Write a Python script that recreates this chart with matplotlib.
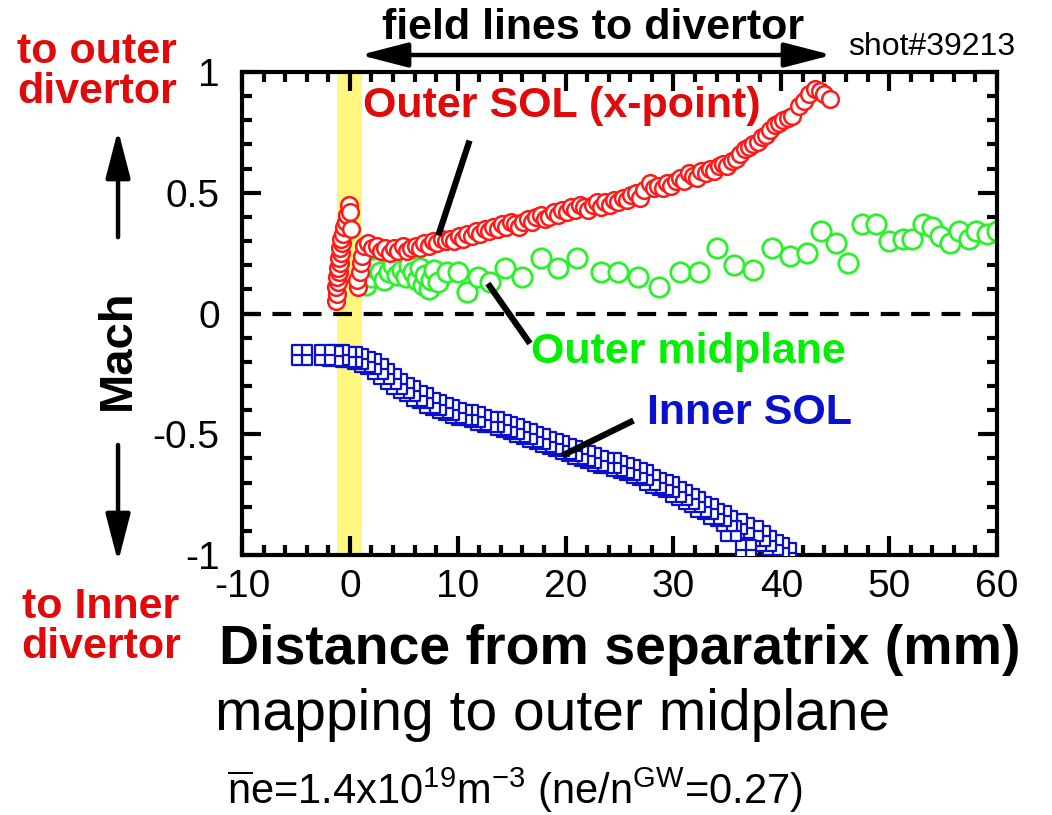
import matplotlib

matplotlib.use("Agg")
import matplotlib.pyplot as plt
from matplotlib.patches import FancyArrowPatch
from matplotlib.path import Path

plt.rcParams["font.family"] = ["Liberation Sans", "DejaVu Sans"]
plt.rcParams["axes.unicode_minus"] = False
plt.rcParams["mathtext.fontset"] = "custom"
plt.rcParams["mathtext.rm"] = "Liberation Sans"
plt.rcParams["mathtext.it"] = "Liberation Sans"
plt.rcParams["mathtext.bf"] = "Liberation Sans:bold"

# Mach number vs distance from separatrix (mm, mapped to outer midplane)
outer_sol_x = [
    -1.3, -1.2, -1.3, -1.1, -1.2, -1.0, -1.1, -0.9, -1.0, -0.8, -0.9, -0.7,
    -0.8, -0.6, -0.5, -0.4, -0.3, -0.1, 0.0, 0.1, 0.8, 0.7, 0.9, 1.0, 1.1,
    1.3, 1.7, 2.1, 2.5, 2.9, 3.3, 3.7, 4.1, 4.5, 4.9, 5.3, 5.7, 6.1, 6.5,
    6.9, 7.3, 7.7, 8.1, 8.5, 8.9, 9.3, 9.7, 10.1, 10.5, 10.9, 11.3, 11.7,
    12.1, 12.5, 12.9, 13.3, 13.7, 14.1, 14.5, 14.9, 15.3, 15.7, 16.1, 16.5,
    16.9, 17.3, 17.7, 18.1, 18.5, 18.9, 19.3, 19.7, 20.1, 20.5, 20.9, 21.3,
    21.7, 22.1, 22.5, 22.9, 23.3, 23.7, 24.1, 24.5, 24.9, 25.3, 25.7, 26.1,
    26.5, 26.9, 27.3, 27.8, 28.2, 28.6, 29.0, 29.4, 29.8, 30.2, 30.6, 31.0,
    31.4, 31.8, 32.2, 32.6, 33.0, 33.4, 33.8, 34.2, 34.6, 35.0, 35.4, 35.8,
    36.2, 36.6, 37.0, 37.4, 37.8, 38.2, 38.6, 39.0, 39.4, 39.8, 40.2, 40.6,
    41.0, 41.6, 42.1, 42.6, 43.1, 43.6, 44.0, 44.5,
]
outer_sol_mach = [
    0.05, 0.08, 0.11, 0.13, 0.15, 0.17, 0.19, 0.21, 0.23, 0.25, 0.27, 0.29,
    0.31, 0.33, 0.36, 0.38, 0.41, 0.45, 0.42, 0.35, 0.11, 0.14, 0.17, 0.21, 0.24,
    0.28, 0.29, 0.27, 0.28, 0.26, 0.27, 0.25, 0.27, 0.26, 0.28, 0.26, 0.27, 0.28, 0.27,
    0.29, 0.28, 0.30, 0.29, 0.31, 0.30, 0.31, 0.30, 0.32, 0.31, 0.33, 0.32, 0.34,
    0.33, 0.35, 0.34, 0.36, 0.35, 0.37, 0.36, 0.38, 0.37, 0.36, 0.38, 0.39,
    0.38, 0.40, 0.41, 0.39, 0.40, 0.42, 0.41, 0.43, 0.42, 0.44, 0.43, 0.45,
    0.44, 0.43, 0.45, 0.46, 0.44, 0.46, 0.45, 0.47, 0.46, 0.48, 0.47, 0.49,
    0.50, 0.48, 0.51, 0.54, 0.52, 0.53, 0.52, 0.54, 0.53, 0.55, 0.56, 0.55,
    0.58, 0.57, 0.56, 0.59, 0.58, 0.60, 0.59, 0.61, 0.62, 0.61, 0.63, 0.64,
    0.66, 0.68, 0.69, 0.70, 0.71, 0.73, 0.74, 0.76, 0.78, 0.79, 0.80, 0.81,
    0.82, 0.86, 0.88, 0.91, 0.93, 0.92, 0.91, 0.89,
]

midplane_x = [
    1.5, 2.0, 2.3, 2.8, 3.2, 3.6, 4.0, 4.4, 4.8, 5.2, 5.5, 5.9, 6.2, 6.5,
    6.8, 7.0, 7.3, 7.5, 7.8, 8.2, 9.0, 10.0, 10.9, 11.9, 13.0, 14.4, 16.0,
    17.7, 19.3, 21.1, 23.3, 24.9, 26.7, 28.7, 30.6, 32.4, 34.0, 35.6, 37.4,
    39.1, 40.8, 42.4, 43.7, 45.1, 46.2, 47.5, 48.8, 50.0, 51.3, 52.1, 53.1,
    54.0, 54.7, 55.6, 56.5, 57.4, 58.1, 59.1, 60.0,
]
midplane_mach = [
    0.12, 0.15, 0.19, 0.17, 0.14, 0.17, 0.20, 0.16, 0.18, 0.15, 0.20, 0.17,
    0.14, 0.19, 0.12, 0.16, 0.10, 0.14, 0.18, 0.13, 0.17, 0.17, 0.09, 0.15,
    0.13, 0.19, 0.15, 0.23, 0.19, 0.23, 0.17, 0.17, 0.15, 0.11, 0.17, 0.17,
    0.27, 0.20, 0.18, 0.27, 0.24, 0.25, 0.34, 0.29, 0.21, 0.37, 0.37, 0.30,
    0.31, 0.31, 0.37, 0.36, 0.32, 0.29, 0.34, 0.31, 0.34, 0.33, 0.34,
]

inner_sol_x = [
    -4.4, -2.3, -1.6, -1.0, -0.4, 0.2, 0.8, 1.4, 2.0, 2.6, 3.2, 3.8, 4.4,
    5.0, 5.6, 6.2, 6.8, 7.4, 8.0, 8.6, 9.2, 9.8, 10.4, 11.0, 11.6, 12.2,
    12.8, 13.4, 14.0, 14.6, 15.2, 15.8, 16.4, 17.0, 17.6, 18.2, 18.8, 19.4,
    20.0, 20.6, 21.2, 21.8, 22.4, 23.0, 23.6, 24.2, 24.8, 25.4, 26.0, 26.6,
    27.2, 27.8, 28.4, 29.0, 29.6, 30.2, 30.8, 31.4, 32.0, 32.6, 33.2, 33.8,
    34.4, 35.0, 35.3, 35.9, 36.5, 36.7, 37.4, 38.0, 38.6, 39.2, 39.8, 40.4,
]
inner_sol_mach = [
    -0.17, -0.17, -0.175, -0.17, -0.18, -0.18, -0.19, -0.20, -0.21, -0.23,
    -0.25, -0.27, -0.29, -0.31, -0.32, -0.34, -0.35, -0.37, -0.38, -0.39,
    -0.40, -0.41, -0.42, -0.42, -0.43, -0.44, -0.45, -0.45, -0.46, -0.47,
    -0.48, -0.49, -0.50, -0.51, -0.52, -0.53, -0.54, -0.55, -0.56, -0.57,
    -0.58, -0.59, -0.60, -0.61, -0.62, -0.62, -0.63, -0.64, -0.65, -0.66,
    -0.67, -0.69, -0.70, -0.71, -0.72, -0.74, -0.75, -0.77, -0.78, -0.80,
    -0.81, -0.83, -0.84, -0.86, -0.90, -0.87, -0.89, -0.98, -0.90, -0.92,
    -0.94, -0.96, -0.97, -0.99,
]

x_ticks = [-10, 0, 10, 20, 30, 40, 50, 60]
y_ticks = [-1, -0.5, 0, 0.5, 1]
y_tick_labels = ["-1", "-0.5", "0", "0.5", "1"]

RED = "#ff1a1a"
RED_TXT = "#e00a0a"
GREEN = "#2cf02c"
GREEN_TXT = "#00f000"
BLUE = "#0a10cc"

# square with a cross through it
sq_cross = Path(
    [(-1, -1), (1, -1), (1, 1), (-1, 1), (-1, -1), (0, -1), (0, 1), (-1, 0), (1, 0)],
    [Path.MOVETO, Path.LINETO, Path.LINETO, Path.LINETO, Path.CLOSEPOLY,
     Path.MOVETO, Path.LINETO, Path.MOVETO, Path.LINETO],
)

fig = plt.figure(figsize=(10.52, 8.15), dpi=100)
ax = fig.add_axes([0.230, 0.319, 0.7177, 0.5926])

ax.axvspan(-1.2, 1.1, color="#fff77f", lw=0, zorder=0)
ax.axhline(0, color="black", lw=3, ls=(0, (4.5, 2.8)), zorder=1)

ax.plot(midplane_x, midplane_mach, ls="none", marker="o", ms=14, mfc="white",
        mec=GREEN, mew=2, zorder=2)
ax.plot(outer_sol_x, outer_sol_mach, ls="none", marker="o", ms=12, mfc="white",
        mec=RED, mew=1.8, zorder=3)
ax.scatter(inner_sol_x[::-1], inner_sol_mach[::-1], marker=sq_cross, s=15 ** 2,
           facecolor="white", edgecolor=BLUE, linewidths=1.6, zorder=3)

ax.set_xlim(-10, 60)
ax.set_ylim(-1, 1)
ax.set_xticks(x_ticks)
ax.set_xticks(range(-10, 61, 2), minor=True)
ax.set_yticks(y_ticks)
ax.set_yticklabels(y_tick_labels)
ax.set_yticks([v / 10 for v in range(-10, 11)], minor=True)
ax.tick_params(which="both", direction="in", top=True, right=True, width=3,
               labelsize=28)
ax.tick_params(which="major", length=14)
ax.tick_params(which="minor", length=7)
ax.tick_params(axis="x", pad=10)
ax.tick_params(axis="y", pad=16)
for s in ax.spines.values():
    s.set_linewidth(3)

# series labels with leader lines
lead = dict(color="black", lw=4.5, solid_capstyle="butt", zorder=4)
ax.plot([11.1, 8.2], [0.716, 0.323], **lead)
ax.plot([12.8, 16.7], [0.124, -0.124], **lead)
ax.plot([26.3, 19.7], [-0.443, -0.588], **lead)
ax.text(19.7, 0.86, "Outer SOL (x-point)", color=RED_TXT, fontsize=31,
        fontweight="bold", ha="center", va="center")
ax.text(31.4, -0.16, "Outer midplane", color=GREEN_TXT, fontsize=31,
        fontweight="bold", ha="center", va="center")
ax.text(37.1, -0.41, "Inner SOL", color=BLUE, fontsize=31,
        fontweight="bold", ha="center", va="center")


def arrow(p0, p1, both=False):
    style = "<|-|>" if both else "-|>"
    fig.patches.append(FancyArrowPatch(
        p0, p1, transform=fig.transFigure, arrowstyle=style + ",head_length=29,head_width=7.5",
        mutation_scale=1, lw=3.2, color="black", shrinkA=0, shrinkB=0))


arrow((0.3422, 0.9325), (0.7909, 0.9325), both=True)
arrow((0.1122, 0.709), (0.1122, 0.8405))
arrow((0.1122, 0.454), (0.1122, 0.3104))

fig.text(0.5637, 0.9656, "field lines to divertor", fontsize=31,
         fontweight="bold", ha="center", va="center")
fig.text(0.806, 0.942, "shot#39213", fontsize=23, ha="left", va="center")
fig.text(0.0922, 0.912, "to outer\ndivertor", color=RED_TXT, fontsize=31,
         fontweight="bold", ha="center", va="center", linespacing=1.0)
fig.text(0.096, 0.2307, "to Inner\ndivertor", color=RED_TXT, fontsize=31,
         fontweight="bold", ha="center", va="center", linespacing=1.0)
fig.text(0.1122, 0.5706, "Mach", fontsize=34, fontweight="bold",
         rotation=90, ha="center", va="center")
fig.text(0.589, 0.2025, "Distance from separatrix (mm)", fontsize=40,
         fontweight="bold", ha="center", va="center")
fig.text(0.5257, 0.1227, "mapping to outer midplane", fontsize=41,
         ha="center", va="center")
fig.text(0.4895, 0.0307,
         r"$\overline{\mathrm{n}}$e=1.4x10$^{19}$m$^{\mathrm{-3}}$ (ne/n$^{\mathrm{GW}}$=0.27)",
         fontsize=30, ha="center", va="center")

fig.savefig("out.png", dpi=100)
